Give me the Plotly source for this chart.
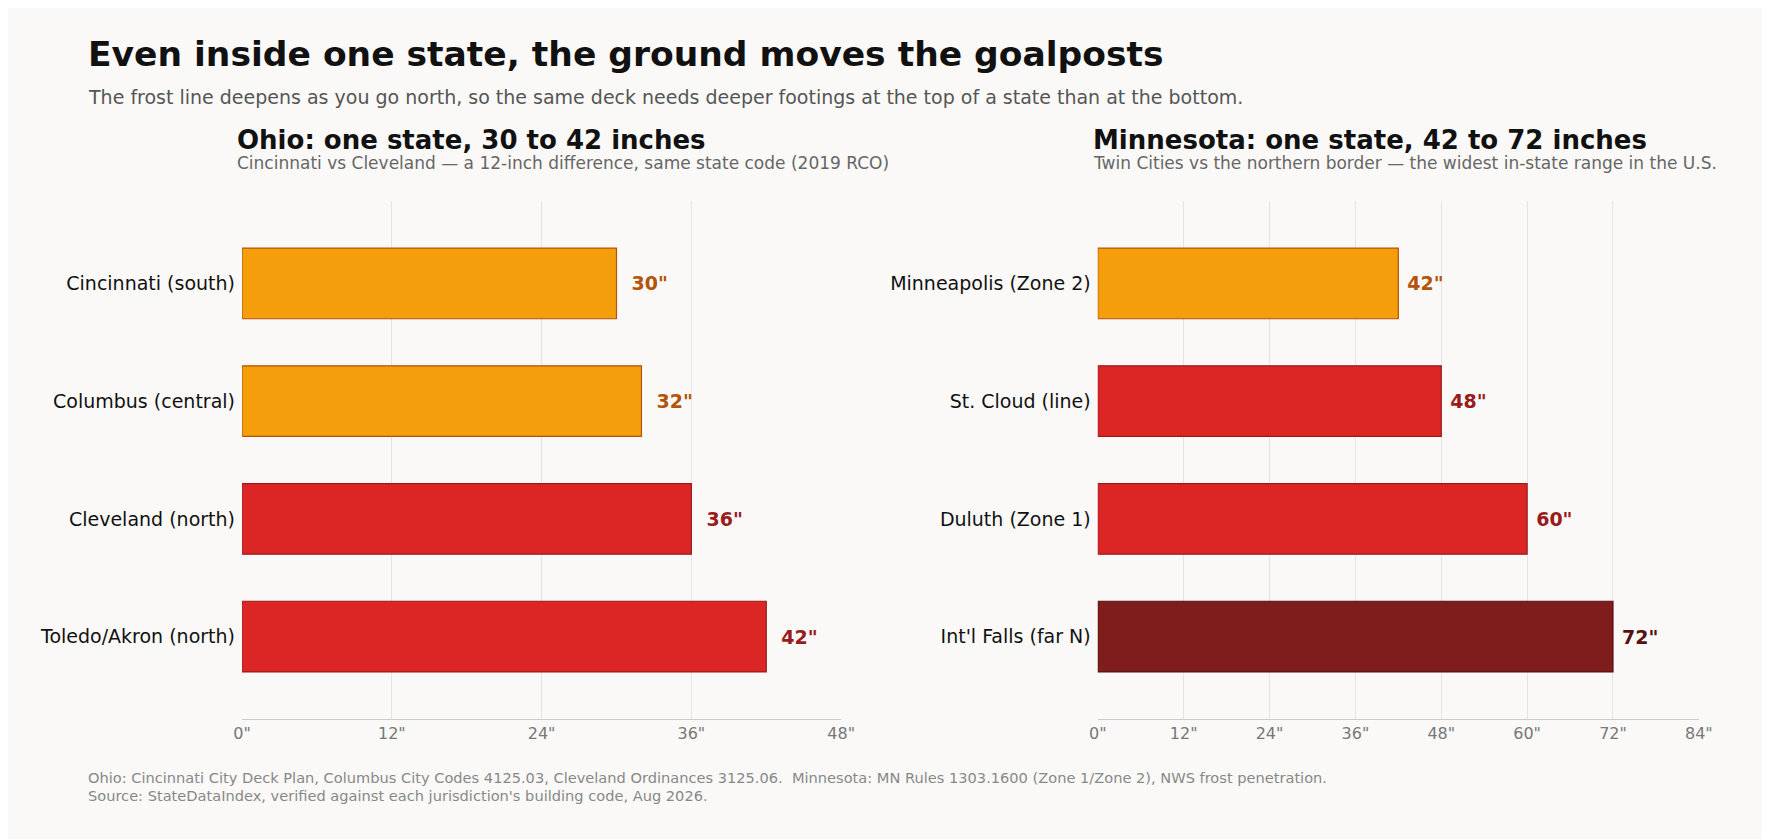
import plotly.graph_objects as go
from plotly.subplots import make_subplots

oh_cities = ["Cincinnati (south)", "Columbus (central)", "Cleveland (north)", "Toledo/Akron (north)"]
oh_depth = [30, 32, 36, 42]
oh_colors = ["#F59E0B", "#F59E0B", "#DC2626", "#DC2626"]
oh_lines = ["#B45309", "#B45309", "#991B1B", "#991B1B"]
oh_text = ["#B45309", "#B45309", "#991B1B", "#991B1B"]

mn_cities = ["Minneapolis (Zone 2)", "St. Cloud (line)", "Duluth (Zone 1)", "Int'l Falls (far N)"]
mn_depth = [42, 48, 60, 72]
mn_colors = ["#F59E0B", "#DC2626", "#DC2626", "#7F1D1D"]
mn_lines = ["#B45309", "#991B1B", "#991B1B", "#5B1010"]
mn_text = ["#B45309", "#991B1B", "#991B1B", "#5B1010"]

oh_ticks = [0, 12, 24, 36, 48]
mn_ticks = [0, 12, 24, 36, 48, 60, 72, 84]

W, H = 1770, 839
fig = make_subplots(rows=1, cols=2)

def px(x): return x / W
def py(y): return 1 - y / H

for col, cities, vals, fc, lc, tc, pad in [(1, oh_cities, oh_depth, oh_colors, oh_lines, oh_text, "  "),
                                           (2, mn_cities, mn_depth, mn_colors, mn_lines, mn_text, " ")]:
    fig.add_trace(go.Bar(
        y=cities, x=vals, orientation="h", width=0.6,
        marker=dict(color=fc, line=dict(color=lc, width=1.2)),
        text=[f'{pad}<b>{v}"</b>' for v in vals], textposition="outside",
        textfont=dict(color=tc, size=19, family="DejaVu Sans"),
        cliponaxis=False, showlegend=False, hoverinfo="skip"), row=1, col=col)

common = dict(showgrid=True, gridcolor="#E6E4E0", zeroline=False, showline=True,
              linecolor="#CCCCCC", tickfont=dict(size=16, color="#777777"), ticks="")
fig.update_xaxes(range=[0, 48], tickvals=oh_ticks, ticktext=[f'{t}"' for t in oh_ticks],
                 domain=[px(228), px(835)], **common, row=1, col=1)
fig.update_xaxes(range=[0, 84], tickvals=mn_ticks, ticktext=[f'{t}"' for t in mn_ticks],
                 domain=[px(1095), px(1704)], **common, row=1, col=2)
fig.update_yaxes(range=[3.7, -0.7], domain=[py(711), py(193)], showgrid=False,
                 tickfont=dict(size=19, color="#111111"), ticks="", ticklen=0, ticksuffix=" ")

ann = [
    (70, 46, "<b>Even inside one state, the ground moves the goalposts</b>", 34.5, "#111111"),
    (70, 89, "The frost line deepens as you go north, so the same deck needs deeper footings at the top of a state than at the bottom.", 19, "#555555"),
    (221, 132, "<b>Ohio: one state, 30 to 42 inches</b>", 26, "#111111"),
    (221, 155, "Cincinnati vs Cleveland — a 12-inch difference, same state code (2019 RCO)", 17, "#666666"),
    (1088, 132, "<b>Minnesota: one state, 42 to 72 inches</b>", 26, "#111111"),
    (1088, 155, "Twin Cities vs the northern border — the widest in-state range in the U.S.", 17, "#666666"),
    (70, 769, "Ohio: Cincinnati City Deck Plan, Columbus City Codes 4125.03, Cleveland Ordinances 3125.06.  Minnesota: MN Rules 1303.1600 (Zone 1/Zone 2), NWS frost penetration.", 14.6, "#888888"),
    (70, 787, "Source: StateDataIndex, verified against each jurisdiction's building code, Aug 2026.", 14.6, "#888888"),
]
for x, y, t, s, c in ann:
    fig.add_annotation(x=px(x), y=py(y), xref="paper", yref="paper", text=t, showarrow=False,
                       xanchor="left", yanchor="middle", font=dict(size=s, color=c))

fig.update_layout(width=W, height=H, paper_bgcolor="#FAF9F7", plot_bgcolor="#FAF9F7",
                  margin=dict(l=0, r=0, t=0, b=0), font=dict(family="DejaVu Sans"))
fig.write_html("out.html")
